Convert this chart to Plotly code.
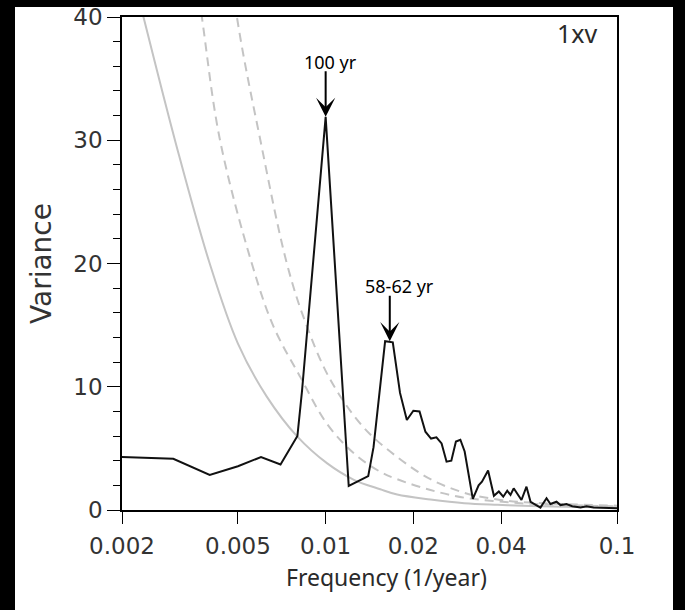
import math
import plotly.graph_objects as go

# Spectrum of the 1xv record
freq = [0.002, 0.003, 0.004, 0.005, 0.006, 0.007, 0.008, 0.0083, 0.010, 0.012,
        0.014, 0.0146, 0.016, 0.017, 0.018, 0.019, 0.020, 0.021, 0.022, 0.023,
        0.024, 0.025, 0.026, 0.027, 0.028, 0.029, 0.030, 0.032, 0.0335, 0.0344,
        0.0361, 0.0378, 0.0393, 0.0407, 0.042, 0.0431, 0.0442, 0.047, 0.0489,
        0.0505, 0.0546, 0.0573, 0.0591, 0.062, 0.064, 0.0671, 0.0702, 0.075,
        0.0786, 0.0831, 0.1]
variance = [4.3, 4.15, 2.85, 3.55, 4.3, 3.7, 6.0, 9.7, 31.9, 1.95,
            2.75, 5.1, 13.7, 13.6, 9.5, 7.3, 8.05, 8.0, 6.35, 5.8,
            5.9, 5.4, 3.92, 4.0, 5.55, 5.7, 4.75, 0.9, 2.0, 2.3,
            3.2, 1.15, 1.5, 1.08, 1.57, 1.22, 1.76, 0.81, 1.89,
            0.67, 0.2, 0.95, 0.49, 0.67, 0.4, 0.49, 0.3, 0.2,
            0.3, 0.2, 0.15]

# Red-noise background
bg_freq = [0.002, 0.00237, 0.00308, 0.0040, 0.0050, 0.00628, 0.0080, 0.0101,
           0.0125, 0.0154, 0.0176, 0.0229, 0.0299, 0.0389, 0.0506, 0.0656, 0.1]
bg_var = [47, 40, 29.5, 20, 13.5, 9.2, 5.95, 3.8,
          2.45, 1.68, 1.25, 0.85, 0.55, 0.42, 0.33, 0.27, 0.2]

# Lower confidence level
lo_freq = [0.0033, 0.00376, 0.00434, 0.00558, 0.00662, 0.00818, 0.0101, 0.0125,
           0.0154, 0.0176, 0.0229, 0.0299, 0.0389, 0.0506, 0.1]
lo_var = [50, 40, 30, 20, 14.9, 10.8, 7.0, 4.6,
          3.1, 2.5, 1.62, 1.0, 0.7, 0.5, 0.3]

# Upper confidence level
hi_freq = [0.0043, 0.00496, 0.00597, 0.00736, 0.0085, 0.01036, 0.0135, 0.0176,
           0.0229, 0.0299, 0.0389, 0.0506, 0.1]
hi_var = [52, 40, 30, 20, 15.3, 10.6, 6.7, 4.3,
          2.5, 1.4, 0.85, 0.6, 0.35]

x_ticks = [0.002, 0.005, 0.01, 0.02, 0.04, 0.1]
x_tick_text = ["0.002", "0.005", "0.01", "0.02", "0.04", "0.1"]
y_ticks = [0, 10, 20, 30, 40]

peak_labels = ["100 yr", "58-62 yr"]
peak_freq = [0.010, 0.0166]
peak_var = [31.9, 13.7]
label_dx = [5, 10]

GRAY = "#c4c4c4"
TXT = "#2a2a2a"
fig = go.Figure()
fig.add_trace(go.Scatter(x=bg_freq, y=bg_var, mode="lines",
                         line=dict(color=GRAY, width=2, shape="spline")))
fig.add_trace(go.Scatter(x=lo_freq, y=lo_var, mode="lines",
                         line=dict(color=GRAY, width=2, dash="9px,6px", shape="spline")))
fig.add_trace(go.Scatter(x=hi_freq, y=hi_var, mode="lines",
                         line=dict(color=GRAY, width=2, dash="9px,6px", shape="spline")))
fig.add_trace(go.Scatter(x=freq, y=variance, mode="lines",
                         line=dict(color="#111111", width=2)))

# peak labels with arrows (log axis: annotation x is given in log10 units)
for txt, fx, fy, dx in zip(peak_labels, peak_freq, peak_var, label_dx):
    fig.add_annotation(x=math.log10(fx), y=fy, xref="x", yref="y", text="",
                       showarrow=True, arrowhead=3, arrowsize=1.6, arrowwidth=2,
                       arrowcolor="black", ax=0, ay=-47)
    fig.add_annotation(x=math.log10(fx), y=fy, xref="x", yref="y", text=txt,
                       showarrow=False, xshift=dx, yshift=55,
                       font=dict(family="Noto Sans", size=18, color="black"))

fig.add_annotation(x=0.965, y=(510 - 33) / 493, xref="paper", yref="paper", text="1xv",
                   showarrow=False, xanchor="right", yanchor="middle",
                   font=dict(family="Noto Sans", size=25, color=TXT))

# x-axis title
fig.add_annotation(x=(386 - 122) / 495, y=(510 - 577) / 493, xref="paper", yref="paper",
                   text="Frequency (1/year)", showarrow=False,
                   xanchor="center", yanchor="middle",
                   font=dict(family="Noto Sans", size=23, color=TXT))

# white page inside a black border
fig.add_shape(type="rect", xref="paper", yref="paper", layer="below",
              x0=(15 - 122) / 495, x1=(673 - 122) / 495,
              y0=-0.25, y1=(510 - 7) / 493,
              fillcolor="white", line=dict(width=0))

fig.update_layout(
    width=685, height=610,
    margin=dict(l=122, r=68, t=17, b=100, autoexpand=False),
    paper_bgcolor="black", plot_bgcolor="white",
    showlegend=False,
    font=dict(family="DejaVu Sans", color=TXT),
)
fig.update_xaxes(type="log", range=[-2.69897, -1], automargin=False,
                 tickvals=x_ticks, ticktext=x_tick_text,
                 ticks="outside", ticklen=12, tickwidth=1, tickcolor="black",
                 ticklabelstandoff=3,
                 showline=True, linecolor="black", linewidth=1.5, mirror=True,
                 showgrid=False, zeroline=False,
                 tickfont=dict(family="DejaVu Sans", size=23, color="#333333"))
fig.update_yaxes(range=[0, 40], tickvals=y_ticks, automargin=False,
                 ticks="outside", ticklen=13, tickwidth=1, tickcolor="black",
                 minor=dict(dtick=2, ticks="outside", ticklen=7, tickcolor="black", tickwidth=1),
                 showline=True, linecolor="black", linewidth=1.5, mirror=True,
                 showgrid=False, zeroline=False,
                 tickfont=dict(family="DejaVu Sans", size=23, color="#333333"),
                 title=dict(text="Variance", standoff=14,
                            font=dict(family="DejaVu Sans", size=28, color="#333333")))

fig.write_html("out.html")
